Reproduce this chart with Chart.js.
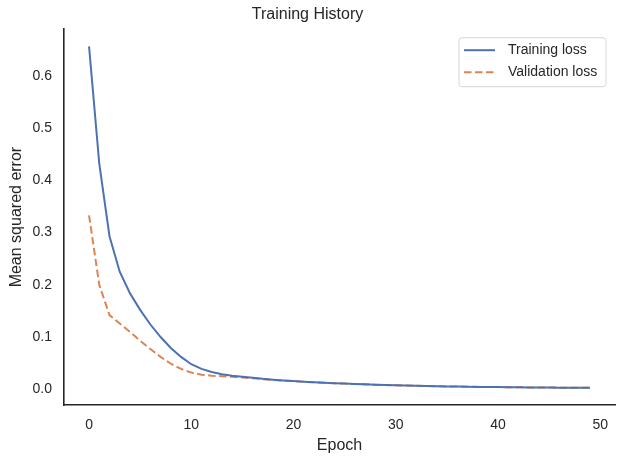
<!DOCTYPE html>
<html>
<head>
<meta charset="utf-8">
<script src="https://cdn.jsdelivr.net/npm/chart.js@4/dist/chart.umd.min.js"></script>
<style>
  html, body { margin: 0; padding: 0; background: #fff; }
  #wrap { width: 623px; height: 464px; }
</style>
</head>
<body>
<div id="wrap"><canvas id="hist"></canvas></div>
<script>
// values
const epochs = Array.from({length: 50}, (_, i) => i);
const trainLoss = [
  0.656, 0.432, 0.293, 0.225, 0.184, 0.152, 0.124, 0.100, 0.079, 0.062,
  0.048, 0.039, 0.033, 0.029, 0.026, 0.024, 0.022, 0.020, 0.0185, 0.017,
  0.0158, 0.0147, 0.0137, 0.0127, 0.0118, 0.0110, 0.0102, 0.0095, 0.0088, 0.0082,
  0.0077, 0.0072, 0.0067, 0.0063, 0.0059, 0.0055, 0.0052, 0.0049, 0.0046, 0.0044,
  0.0042, 0.0040, 0.0038, 0.0036, 0.0034, 0.0033, 0.0031, 0.0030, 0.0029, 0.0028
];
const valLoss = [
  0.333, 0.200, 0.142, 0.126, 0.110, 0.093, 0.077, 0.062, 0.049, 0.039,
  0.032, 0.028, 0.026, 0.025, 0.024, 0.0225, 0.021, 0.0195, 0.018, 0.0168,
  0.0156, 0.0145, 0.0135, 0.0126, 0.0117, 0.0109, 0.0101, 0.0094, 0.0088, 0.0082,
  0.0077, 0.0072, 0.0067, 0.0063, 0.0059, 0.0056, 0.0053, 0.0050, 0.0047, 0.0045,
  0.0043, 0.0041, 0.0039, 0.0037, 0.0035, 0.0034, 0.0032, 0.0031, 0.0030, 0.0029
];
const xTicks = [0, 10, 20, 30, 40, 50];
const yTicks = [0.0, 0.1, 0.2, 0.3, 0.4, 0.5, 0.6];
const xLimits = [-2.45, 51.45];
const yLimits = [-0.030, 0.689];

const INK = '#262626';
const FONT = "'Liberation Sans', Arial, sans-serif";

// matplotlib-style legend box in the upper right of the plot area
const boxLegend = {
  id: 'boxLegend',
  afterDatasetsDraw(chart){
    const {ctx, chartArea} = chart;
    const w = 147, h = 49;
    const x = chartArea.right - 9 - w, y = chartArea.top + 8.5;
    ctx.save();
    ctx.beginPath();
    ctx.roundRect(x, y, w, h, 3);
    ctx.fillStyle = 'rgba(255,255,255,0.8)';
    ctx.fill();
    ctx.strokeStyle = '#d6d6d6';
    ctx.lineWidth = 1;
    ctx.stroke();
    ctx.font = '14px ' + FONT;
    ctx.textBaseline = 'middle';
    chart.data.datasets.forEach((ds, i) => {
      const ry = y + 12.5 + i * 22;
      ctx.beginPath();
      ctx.setLineDash(ds.borderDash || []);
      ctx.strokeStyle = ds.borderColor;
      ctx.lineWidth = ds.borderWidth;
      ctx.moveTo(x + 5, ry);
      ctx.lineTo(x + 36, ry);
      ctx.stroke();
      ctx.setLineDash([]);
      ctx.fillStyle = INK;
      ctx.fillText(ds.label, x + 49, ry);
    });
    ctx.restore();
  }
};

const ctx = document.getElementById('hist');
new Chart(ctx, {
  type: 'line',
  data: {
    datasets: [
      { label: 'Training loss', data: epochs.map((e, i) => ({x: e, y: trainLoss[i]})),
        borderColor: '#4c72b0', borderWidth: 2, pointRadius: 0, tension: 0 },
      { label: 'Validation loss', data: epochs.map((e, i) => ({x: e, y: valLoss[i]})),
        borderColor: '#dd8452', borderWidth: 2, borderDash: [7.5, 3.5], pointRadius: 0, tension: 0 }
    ]
  },
  options: {
    responsive: true,
    maintainAspectRatio: false,
    animation: false,
    layout: { padding: { left: 0, right: 8, top: 0, bottom: 0 } },
    plugins: {
      legend: { display: false },
      tooltip: { enabled: false },
      title: { display: true, text: 'Training History', color: INK,
        font: { family: FONT, size: 16, weight: 'normal' }, padding: { top: 5, bottom: 5 } }
    },
    scales: {
      x: {
        type: 'linear', min: xLimits[0], max: xLimits[1],
        afterBuildTicks: (ax) => { ax.ticks = xTicks.map(v => ({value: v})); },
        afterFit: (ax) => { ax.height = 59; },
        grid: { display: false, drawTicks: false },
        border: { display: true, color: INK, width: 1.6 },
        ticks: { color: INK, font: { family: FONT, size: 14 }, padding: 12, maxRotation: 0 },
        title: { display: true, text: 'Epoch', color: INK, font: { family: FONT, size: 16 }, padding: { top: 0, bottom: 9 } }
      },
      y: {
        type: 'linear', min: yLimits[0], max: yLimits[1],
        afterBuildTicks: (ax) => { ax.ticks = yTicks.map(v => ({value: v})); },
        afterFit: (ax) => { ax.width = 64; },
        grid: { display: false, drawTicks: false },
        border: { display: true, color: INK, width: 1.6 },
        ticks: { color: INK, font: { family: FONT, size: 14 }, padding: 12, callback: (v) => v.toFixed(1) },
        title: { display: true, text: 'Mean squared error', color: INK, font: { family: FONT, size: 16 }, padding: { top: 7, bottom: 0 } }
      }
    }
  },
  plugins: [boxLegend]
});
</script>
</body>
</html>
